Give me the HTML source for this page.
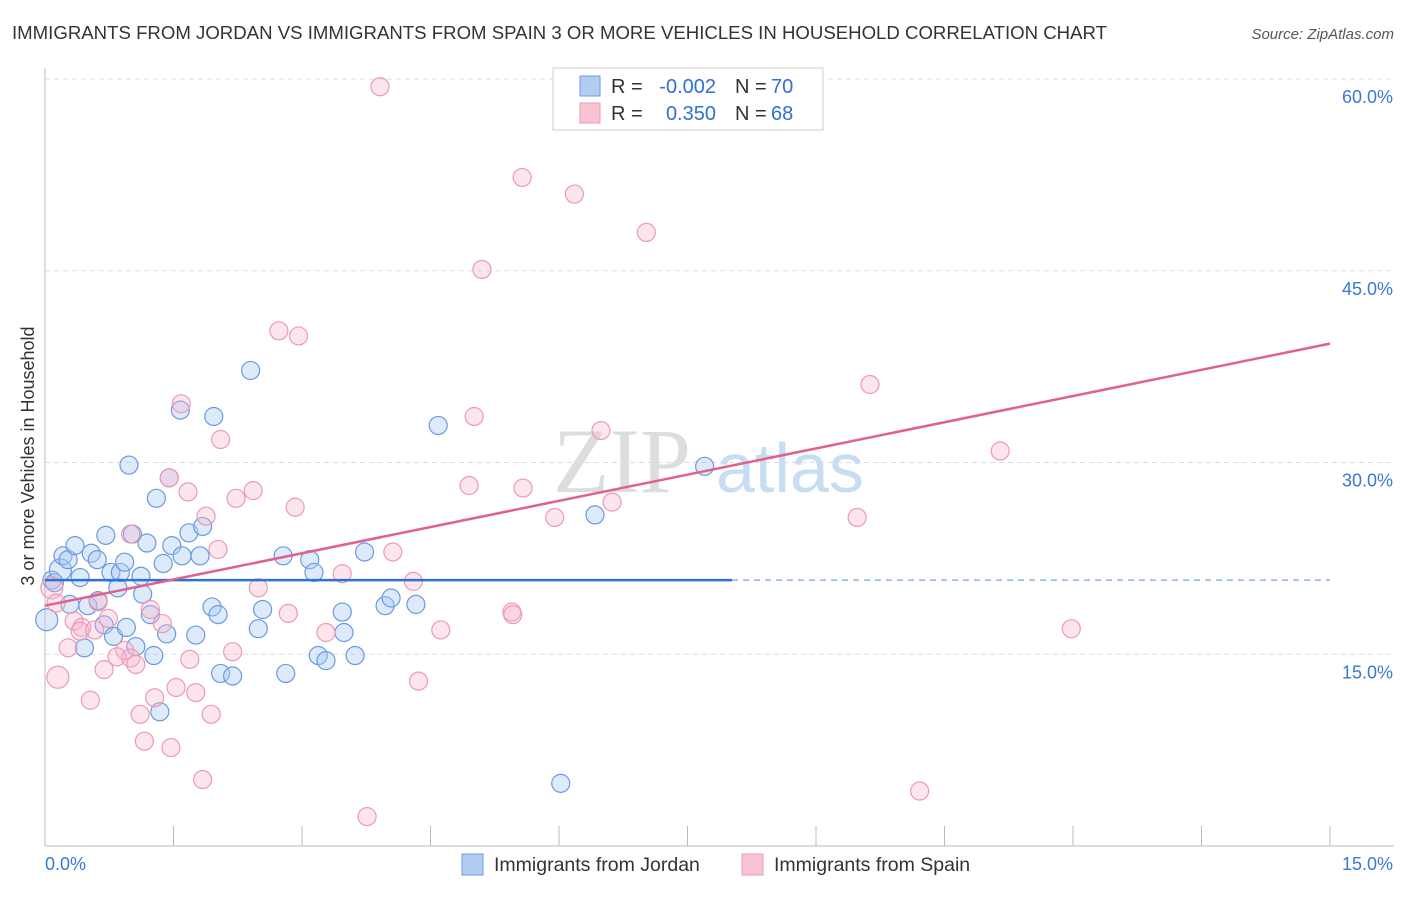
<!DOCTYPE html>
<html><head><meta charset="utf-8"><style>
body{margin:0;background:#fff;font-family:"Liberation Sans",sans-serif}
</style></head><body>
<svg width="1406" height="892" xmlns="http://www.w3.org/2000/svg" font-family="Liberation Sans, sans-serif">
<text x="12" y="39" font-size="18" fill="#333" textLength="1095" lengthAdjust="spacingAndGlyphs">IMMIGRANTS FROM JORDAN VS IMMIGRANTS FROM SPAIN 3 OR MORE VEHICLES IN HOUSEHOLD CORRELATION CHART</text>
<text x="1394" y="39" font-size="15" fill="#555" font-style="italic" text-anchor="end">Source: ZipAtlas.com</text>
<g id="grid"></g>
<g><text x="553" y="492" font-size="92" font-family="Liberation Serif, serif" fill="#ddd">ZIP</text><text x="716" y="492" font-size="70" fill="#c8dcf2">atlas</text></g>
<g id="axes"></g>
<g id="pts"></g>
<g id="lines"></g>
<g>
<rect x="553" y="68" width="270" height="62" fill="#fff" stroke="#ccc"/>
<rect x="580" y="76" width="20" height="20" fill="#b3cdf2" stroke="#6a9ae0"/>
<rect x="580" y="103" width="20" height="20" fill="#f8c4d4" stroke="#ec98b3"/>
<text x="611" y="93" font-size="20" fill="#333">R =</text>
<text x="716" y="93" font-size="20" fill="#2f6fd6" text-anchor="end">-0.002</text>
<text x="735" y="93" font-size="20" fill="#333">N =</text>
<text x="771" y="93" font-size="20" fill="#2f6fd6">70</text>
<text x="611" y="120" font-size="20" fill="#333">R =</text>
<text x="716" y="120" font-size="20" fill="#2f6fd6" text-anchor="end">0.350</text>
<text x="735" y="120" font-size="20" fill="#333">N =</text>
<text x="771" y="120" font-size="20" fill="#2f6fd6">68</text>
</g>
<text transform="translate(34,456) rotate(-90)" font-size="18" fill="#333" text-anchor="middle">3 or more Vehicles in Household</text>
<g>
<rect x="462" y="854" width="21" height="21" fill="#b3cdf2" stroke="#6a9ae0"/>
<text x="494" y="871" font-size="19.5" fill="#333">Immigrants from Jordan</text>
<rect x="742" y="854" width="21" height="21" fill="#f8c4d4" stroke="#ec98b3"/>
<text x="774" y="871" font-size="19.5" fill="#333">Immigrants from Spain</text>
</g>
</svg>
<script>
const xTicks=[0,1.5,3,4.5,6,7.5,9,10.5,12,13.5,15];
const yTicks=[15,30,45,60];
const yTickLabels=["15.0%","30.0%","45.0%","60.0%"];
const xEndLabels=["0.0%","15.0%"];
const jordanX=[0.02,0.08,0.11,0.18,0.21,0.27,0.29,0.35,0.41,0.46,0.50,0.54,0.61,0.62,0.69,0.71,0.77,0.80,0.85,0.88,0.93,0.95,0.98,1.02,1.06,1.12,1.14,1.19,1.23,1.27,1.30,1.34,1.38,1.42,1.45,1.48,1.58,1.60,1.68,1.76,1.81,1.84,1.95,1.97,2.02,2.05,2.19,2.40,2.49,2.54,2.78,2.81,3.09,3.14,3.19,3.28,3.47,3.49,3.62,3.73,3.97,4.04,4.33,4.59,6.02,6.42,7.70];
const jordanY=[17.7,20.8,20.6,21.6,22.7,22.4,18.9,23.5,21.0,15.5,18.8,22.9,22.4,19.2,17.3,24.3,21.4,16.4,20.2,21.4,22.2,17.1,29.8,24.4,15.6,21.1,19.7,23.7,18.1,14.9,27.2,10.5,22.1,16.6,28.8,23.5,34.1,22.7,24.5,16.5,22.7,25.0,18.7,33.6,18.1,13.5,13.3,37.2,17.0,18.5,22.7,13.5,22.4,21.4,14.9,14.5,18.3,16.7,14.9,23.0,18.8,19.4,18.9,32.9,4.9,25.9,29.7];
const spainX=[3.91,5.57,6.18,7.02,5.10,2.73,2.96,9.63,1.59,5.01,2.05,6.49,11.15,1.45,4.95,5.58,1.67,2.43,2.23,2.92,6.62,1.88,5.95,9.48,1.00,2.02,4.06,3.47,2.49,4.30,0.08,0.13,0.62,1.23,2.84,5.45,5.46,0.74,0.34,0.43,0.41,0.58,1.37,3.28,4.62,11.98,0.27,0.93,2.19,0.84,1.00,1.69,0.69,1.06,0.15,4.36,1.53,1.76,1.28,0.53,1.11,1.94,1.16,1.47,1.84,10.21,3.76];
const spainY=[59.4,52.3,51.0,48.0,45.1,40.3,39.9,36.1,34.6,33.6,31.8,32.5,30.9,28.8,28.2,28.0,27.7,27.8,27.2,26.5,26.9,25.8,25.7,25.7,24.4,23.2,23.0,21.3,20.2,20.7,20.2,19.0,19.1,18.5,18.2,18.3,18.1,17.8,17.6,17.1,16.8,16.9,17.4,16.7,16.9,17.0,15.5,15.3,15.2,14.8,14.7,14.6,13.8,14.2,13.2,12.9,12.4,12.0,11.6,11.4,10.3,10.3,8.2,7.7,5.2,4.3,2.3];
const jordanTrend=[20.8,20.8];
const spainTrend=[18.8,39.3];
const jordanSolidEnd=8.02;
const X0=45,X1=1330,Y0=846,Y1=79;
const sx=v=>X0+(v-0)/15*(X1-X0);
const sy=v=>Y0-(v/60)*(Y0-Y1);
const NS="http://www.w3.org/2000/svg";
function mk(t,a,p){const e=document.createElementNS(NS,t);for(const k in a)e.setAttribute(k,a[k]);p.appendChild(e);return e;}
const grid=document.getElementById('grid'),axes=document.getElementById('axes'),pts=document.getElementById('pts'),lines=document.getElementById('lines');
yTicks.forEach((t,i)=>{
 const l=mk('line',{x1:X0,x2:1394,y1:sy(t),y2:sy(t),stroke:'#ddd','stroke-dasharray':'5,4'},grid);
 
 
 const tx=mk('text',{x:1393,y:sy(t)+24,'font-size':18,fill:'#3a78d8','text-anchor':'end'},axes);
 tx.textContent=yTickLabels[i];
 
 
});
const ya=mk('line',{x1:X0,x2:X0,y1:68,y2:Y0,stroke:'#bbb'},axes);


const xa=mk('line',{x1:X0,x2:1394,y1:Y0,y2:Y0,stroke:'#bbb'},axes);


xTicks.forEach(t=>{
 const l=mk('line',{x1:sx(t),x2:sx(t),y1:Y0,y2:Y0-20,stroke:'#bbb'},axes);
 
 
});
[[0,'start',X0],[1,'end',1393]].forEach(([i,a,x])=>{
 const tx=mk('text',{x:x,y:870,'font-size':18,fill:'#3a78d8','text-anchor':a},axes);
 tx.textContent=xEndLabels[i];
 
 
});
function draw(xs,ys,fill,stroke,name){
 xs.forEach((x,i)=>{
  const big=(x<0.2&&i%3===0);
  const c=mk('circle',{cx:sx(x),cy:sy(ys[i]),r:big?11:9,fill:fill,stroke:stroke,'stroke-width':1.2},pts);
  
  
 });
}
draw(jordanX,jordanY,'rgba(170,202,242,0.4)','#6a9ae0','jordan-point');
draw(spainX,spainY,'rgba(247,180,202,0.35)','#ec9ab4','spain-point');
const b1=mk('line',{x1:sx(0),x2:sx(jordanSolidEnd),y1:sy(jordanTrend[0]),y2:sy(jordanTrend[0]+(jordanTrend[1]-jordanTrend[0])*jordanSolidEnd/15),stroke:'#2f6fd6','stroke-width':2.5},lines);


const b2=mk('line',{x1:sx(jordanSolidEnd),x2:sx(15),y1:sy(jordanTrend[0]+(jordanTrend[1]-jordanTrend[0])*jordanSolidEnd/15),y2:sy(jordanTrend[1]),stroke:'#7aa4e0','stroke-width':1.3,'stroke-dasharray':'6,5'},lines);


const p1=mk('line',{x1:sx(0),x2:sx(15),y1:sy(spainTrend[0]),y2:sy(spainTrend[1]),stroke:'#e0608e','stroke-width':2.5},lines);


</script>
</body></html>
